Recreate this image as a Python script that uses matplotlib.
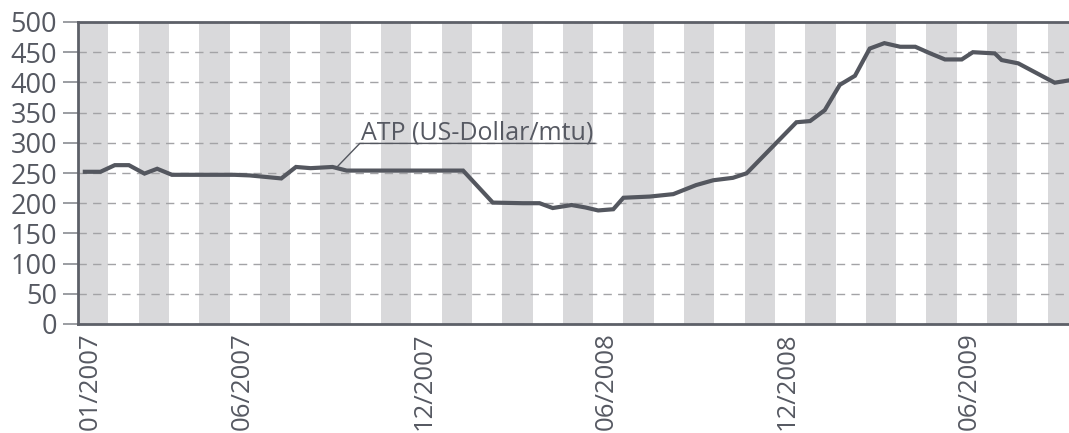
import matplotlib
matplotlib.use("Agg")
import matplotlib.pyplot as plt
import numpy as np
import pandas as pd

plt.rcParams["font.family"] = ["Open Sans", "DejaVu Sans"]

# ATP price, US-Dollar per mtu
dates = [
    "2007-01-08", "2007-01-24", "2007-02-07", "2007-02-20", "2007-03-07", "2007-03-20",
    "2007-04-04", "2007-04-19", "2007-05-05", "2007-05-21", "2007-06-06", "2007-06-21",
    "2007-07-07", "2007-07-23", "2007-08-07", "2007-08-22", "2007-09-13", "2007-09-27",
    "2007-10-12", "2007-10-27", "2007-11-12", "2007-11-27", "2007-12-12", "2007-12-27",
    "2008-01-12", "2008-01-23", "2008-02-21", "2008-03-07", "2008-03-22", "2008-04-08",
    "2008-04-21", "2008-05-10", "2008-05-24", "2008-06-06", "2008-06-21", "2008-07-01",
    "2008-07-28", "2008-08-21", "2008-09-13", "2008-09-30", "2008-10-20", "2008-11-03",
    "2008-12-23", "2009-01-06", "2009-01-21", "2009-02-05", "2009-02-19", "2009-03-05",
    "2009-03-20", "2009-04-05", "2009-04-20", "2009-05-05", "2009-05-20", "2009-06-06",
    "2009-06-17", "2009-07-09", "2009-07-16", "2009-08-02", "2009-09-08", "2009-09-21",
]
atp = [
    252, 252, 263, 263, 249, 257,
    247, 247, 247, 247, 247, 246,
    243.5, 241, 260, 258, 260, 254,
    254, 254, 254, 254, 254, 254,
    254, 254, 201, 200.5, 200, 200,
    192, 197, 193, 188, 190, 209,
    211, 215, 230, 238, 242, 249.5,
    334, 336, 354, 396, 411, 456,
    465, 459, 459, 448, 438, 438,
    450, 448, 437, 431.5, 399.5, 403,
]
tick_labels = ["01/2007", "06/2007", "12/2007", "06/2008", "12/2008", "06/2009"]
label_text = "ATP (US-Dollar/mtu)"

# months since 01/2007 as float
d = pd.to_datetime(pd.Series(dates))
x = ((d.dt.year - 2007) * 12 + d.dt.month - 1 + (d.dt.day - 1) / d.dt.days_in_month).to_numpy()

tick_dates = pd.to_datetime(["2007-01-01", "2007-06-01", "2007-12-01",
                             "2008-06-01", "2008-12-01", "2009-06-01"])
tick_pos = (tick_dates.year - 2007) * 12 + tick_dates.month - 1 + 0.42

txt = "#565962"
dark = "#54575f"

fig = plt.figure(figsize=(10.69, 4.33), dpi=100)
ax = fig.add_axes([78 / 1069, 109 / 433, 991 / 1069, 302 / 433])

n_months = 991 / 30.3
for m in range(0, 34, 2):
    ax.axvspan(m, m + 1, color="#d9d9db", lw=0, zorder=0.5)

ax.set_yticks(np.arange(0, 501, 50))
ax.grid(axis="y", color="#a3a3a6", lw=1.0, linestyle=(0, (6, 4.5)), zorder=1)
ax.grid(axis="x", visible=False)

ax.plot(x, atp, color=dark, lw=3.0, solid_joinstyle="miter", zorder=3)

# label with leader line
ax.plot([8.55, 9.3, 17.06], [260, 299, 299], color=dark, lw=1.0, zorder=3)
ax.text(9.33, 305, label_text, fontsize=18, color=txt, ha="left", va="baseline", zorder=4)

ax.set_xlim(0, n_months)
ax.set_ylim(0, 500)
ax.set_xticks(tick_pos)
ax.set_xticklabels(tick_labels, rotation=90, va="top", ha="center")

for s in ["top", "left", "bottom"]:
    ax.spines[s].set_color("#5d6068")
    ax.spines[s].set_linewidth(2.0)
ax.spines["right"].set_visible(False)

ax.tick_params(axis="y", length=11, width=1.2, color="#8a8c92", pad=4,
               labelsize=19.5, labelcolor=txt)
ax.tick_params(axis="x", length=0, pad=6, labelsize=18.5, labelcolor=txt)

fig.savefig("out.png", dpi=100)
